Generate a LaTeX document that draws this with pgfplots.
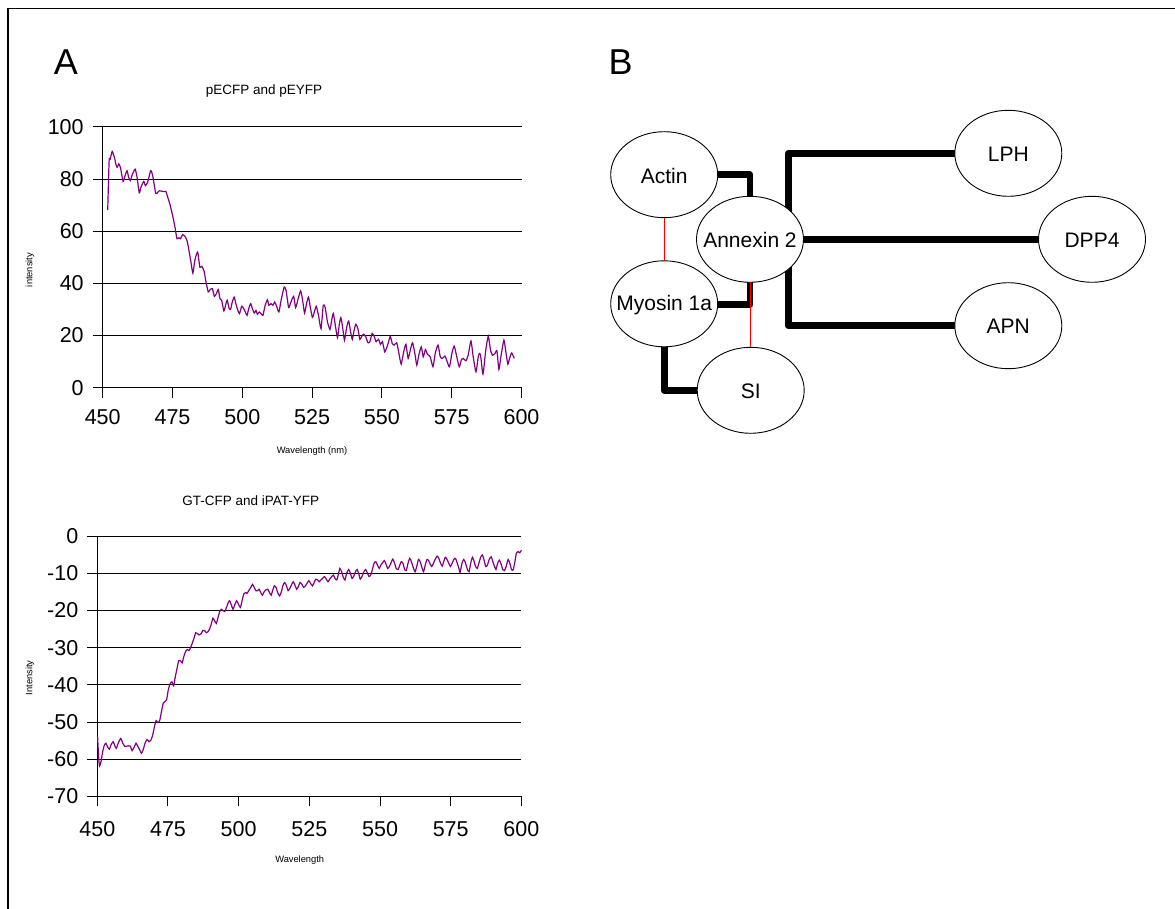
\documentclass[border=0pt]{standalone}
\usepackage{fontspec}
\setmainfont{Liberation Sans}
\usepackage{pgfplots}
\pgfplotsset{compat=1.18}
\definecolor{plotpurple}{HTML}{800080}
\definecolor{redline}{HTML}{FF0000}
\pgfplotsset{
  spec/.style={
    scale only axis, anchor=south west,
    xmin=450, xmax=600,
    axis lines=left,
    every inner x axis line/.append style={-},
    every inner y axis line/.append style={-},
    every outer x axis line/.append style={-},
    every outer y axis line/.append style={-},
    axis line style={black, line width=1pt},
    ymajorgrids, grid style={black, line width=1pt},
    xtick={450,475,...,600}, xticklabels={450,475,500,525,550,575,600},
    tick align=outside, major tick length=10pt,
    tick style={black, line width=1pt},
    tick label style={font=\fontsize{21.5}{24}\selectfont},
    yticklabel style={xshift=-5.5pt},
    clip=false,
  }
}
\begin{document}
\begin{tikzpicture}
\path[use as bounding box] (0pt,0pt) rectangle (1175pt,-909pt);
\draw[line width=1.3pt] (8pt,-909pt) -- (8pt,-8.3pt) -- (1175pt,-8.3pt);

% ---------- top plot ----------
\begin{axis}[spec,
  at={(102.7pt,-387.6pt)}, width=418.8pt, height=260.7pt,
  ymin=0, ymax=100,
  ytick={0,20,...,100}, yticklabels={0,20,40,60,80,100},
  xticklabel style={yshift=-8pt, text height=15.6pt, text depth=0pt},
]
\addplot[color=plotpurple, line width=1.2pt, no markers, smooth, tension=0.35] coordinates {
(451.8,68.1)(452.3,87.0)(452.7,87.7)(453.4,90.6)(454.2,88.3)(454.8,85.4)(455.2,84.5)(455.8,85.8)(456.4,84.2)(457.3,79.1)(458.0,81.3)(458.7,83.2)(459.3,80.7)(459.9,79.4)(460.6,81.7)(461.6,83.8)(462.3,80.7)(463.1,74.7)(463.7,76.8)(464.7,79.1)(465.3,77.5)(466.1,78.8)(467.2,83.2)(467.9,81.3)(469.0,74.5)(469.7,74.9)(470.3,75.5)(471.8,75.2)(472.6,75.3)(473.3,73.0)(474.1,70.2)(474.7,67.6)(475.3,64.7)(475.9,61.5)(476.6,57.1)(477.3,57.5)(477.9,57.1)(478.6,58.7)(479.5,57.9)(480.2,56.4)(480.9,52.6)(481.6,48.2)(482.3,43.9)(483.0,48.8)(484.0,52.0)(484.8,46.2)(485.5,46.5)(486.3,44.7)(486.9,41.1)(487.8,36.7)(488.5,37.6)(489.3,37.9)(490.0,35.0)
(490.7,36.0)(491.4,37.6)(492.0,34.1)(492.6,33.5)(493.4,29.4)(494.0,31.6)(494.6,33.5)(495.3,30.3)(495.8,30.0)(496.4,32.8)(497.1,34.7)(497.7,32.2)(498.4,29.6)(499.0,28.4)(499.8,31.2)(500.5,30.3)(501.1,29.0)(501.7,27.7)(502.3,30.3)(503.0,32.2)(503.6,30.3)(504.3,28.6)(504.9,29.6)(505.4,28.1)(506.1,29.0)(506.7,28.4)(507.4,27.7)(508.1,31.2)(509.0,33.7)(509.5,31.6)(510.3,32.2)(511.0,31.6)(511.6,32.8)(512.3,31.2)(513.1,29.0)(513.9,33.5)(515.0,38.6)(515.7,37.1)(516.6,30.7)(517.4,32.8)(518.4,35.0)(519.1,30.7)(520.0,34.1)(520.9,37.1)(521.6,33.5)(522.3,28.6)(523.0,32.2)(523.7,34.7)(524.3,31.2)(525.1,26.9)(525.8,29.0)(526.5,31.2)(527.3,27.7)(528.2,22.6)(529.0,31.6)(529.7,30.7)(530.5,25.2)(531.4,22.3)(532.0,25.8)(532.6,28.4)(533.4,23.3)(534.1,19.2)(534.7,23.9)(535.3,26.9)(536.0,22.6)(536.6,18.2)(537.4,23.3)(538.1,25.5)(538.8,21.4)(539.4,18.5)(540.1,22.3)(540.7,24.3)(541.4,22.6)(542.1,18.5)(542.7,19.5)(543.4,20.5)(544.2,19.5)(545.0,17.2)(545.7,17.6)(546.5,20.8)(547.3,19.5)(547.9,17.6)(548.8,18.5)(549.5,16.6)(550.2,17.6)(551.0,13.7)(551.6,15.0)(552.3,17.2)(553.0,19.7)(553.7,16.9)(554.4,16.3)(555.3,17.2)(556.1,13.1)(556.9,9.0)(557.8,13.7)(558.6,16.6)(559.4,11.2)(560.3,15.0)(561.0,17.2)(561.8,13.1)(562.5,8.6)(563.2,12.4)(564.1,15.6)(564.8,11.8)(565.6,14.6)(566.3,12.8)(567.3,11.8)(568.3,8.0)(569.1,13.1)(570.1,16.3)(570.9,11.8)(571.7,11.2)(572.6,12.1)(573.4,9.9)(574.2,8.0)(575.1,13.3)(575.9,15.9)(576.7,12.4)(577.7,8.0)
(578.5,10.8)(579.1,11.2)(580.1,10.3)(580.9,12.4)(581.9,17.9)(582.7,11.8)(583.7,6.1)(584.6,12.4)(585.3,12.7)(586.2,5.2)(587.2,14.4)(588.1,19.7)(588.9,14.4)(589.6,12.4)(590.5,13.1)(591.2,14.1)(591.9,7.0)(592.7,12.4)(593.7,18.2)(594.4,13.7)(595.1,9.0)(595.8,11.5)(596.5,13.3)(597.4,11.2)
};
\end{axis}

% ---------- bottom plot ----------
\begin{axis}[spec,
  at={(97.3pt,-796.4pt)}, width=424.1pt, height=260.4pt,
  ymin=-70, ymax=0,
  ytick={-70,-60,...,0}, yticklabels={-70,-60,-50,-40,-30,-20,-10,0},
  xticklabel style={yshift=-11pt, text height=15.6pt, text depth=0pt},
]
\addplot[color=plotpurple, line width=1.2pt, no markers, smooth, tension=0.35] coordinates {
(450.1,-53.9)(450.5,-59.8)(450.8,-61.8)(451.3,-60.7)(451.9,-58.0)(452.5,-56.2)(453.1,-55.7)(453.7,-56.8)(454.3,-57.3)(454.8,-56.2)(455.6,-55.3)(456.1,-56.2)(456.7,-57.1)(457.4,-55.7)(458.3,-54.4)(459.0,-55.7)(459.7,-56.5)(460.4,-56.5)(461.1,-56.4)(461.7,-56.5)(462.3,-57.7)(463.0,-56.8)(463.7,-55.7)(464.3,-56.5)(465.0,-57.5)(465.6,-58.4)(466.2,-57.5)(466.9,-55.7)(467.6,-54.7)(468.3,-55.3)(469.0,-54.8)(469.6,-53.5)(470.2,-51.3)(470.8,-49.6)(471.5,-50.2)(472.1,-49.5)(472.7,-47.2)(473.3,-45.0)(473.9,-44.5)(474.5,-44.1)(475.1,-41.4)(475.8,-39.6)(476.4,-39.2)(477.0,-40.3)(477.6,-37.8)(478.2,-35.6)(478.8,-33.5)(479.4,-33.5)(480.0,-34.1)(480.6,-32.4)(481.2,-31.1)(481.8,-30.5)(482.4,-30.8)(482.9,-30.2)(483.5,-29.0)(484.2,-27.5)(484.8,-26.0)(485.4,-26.2)(486.0,-26.6)(486.7,-26.3)(487.3,-25.4)(487.9,-25.4)(488.6,-26.0)(489.2,-25.7)(489.8,-24.8)(490.3,-23.7)(490.9,-22.1)(491.5,-22.8)(492.1,-23.5)(492.7,-21.9)(493.3,-20.3)(493.9,-19.7)(494.5,-20.1)(495.1,-20.3)(495.7,-19.2)(496.3,-17.9)(496.8,-17.4)(497.4,-18.5)(498.0,-19.7)(498.6,-18.5)(499.3,-17.4)(499.9,-18.3)(500.6,-19.2)(501.2,-17.4)(501.8,-15.6)(502.4,-15.2)(503.0,-15.4)(503.7,-14.5)(504.3,-13.8)(504.9,-13.0)(505.5,-13.8)(506.1,-14.7)(506.7,-14.7)(507.2,-14.3)(507.8,-15.2)(508.4,-15.9)(509.0,-15.0)(509.6,-14.5)(510.3,-14.3)(510.9,-15.2)(511.5,-15.9)(512.0,-14.7)(512.6,-13.4)(513.2,-13.8)(513.8,-15.2)(514.5,-16.1)(515.1,-15.0)(515.7,-13.2)(516.3,-12.5)(516.9,-13.4)(517.5,-14.7)(518.1,-14.1)(518.8,-12.9)(519.3,-12.3)(519.9,-13.2)(520.5,-14.3)(521.1,-13.6)(521.7,-12.5)(522.3,-12.9)(523.0,-13.8)(523.6,-13.4)(524.2,-12.7)(524.8,-12.0)(525.4,-12.7)(526.1,-13.4)(526.7,-12.5)(527.3,-11.6)(527.9,-11.8)(528.5,-12.3)(529.1,-11.8)(529.7,-11.4)(530.3,-10.9)(531.0,-11.6)(531.6,-12.3)(532.2,-11.6)(532.9,-10.9)(533.5,-10.5)(534.1,-11.4)(534.7,-11.8)(535.2,-10.5)(535.8,-8.7)(536.4,-9.6)(537.0,-11.1)(537.6,-11.8)(538.2,-10.0)(538.9,-9.0)(539.5,-10.0)(540.1,-11.4)(540.7,-10.8)(541.3,-9.6)(541.9,-9.0)(542.5,-10.2)(543.0,-11.6)(543.6,-10.9)(544.3,-9.6)(544.9,-9.0)(545.5,-9.9)(546.1,-10.9)(546.7,-10.5)(547.3,-9.0)(547.9,-7.3)(548.5,-6.9)(549.1,-7.8)(549.7,-8.7)(550.3,-7.8)(550.9,-7.2)(551.5,-6.6)(552.1,-7.5)(552.7,-8.7)(553.3,-8.2)(553.9,-7.2)(554.5,-6.2)(555.1,-7.2)(555.7,-8.7)(556.4,-9.0)(557.0,-7.8)(557.5,-6.9)(558.1,-7.3)(558.7,-9.0)(559.3,-9.3)(559.9,-7.3)(560.5,-6.0)(561.1,-6.9)(561.7,-8.4)(562.4,-9.6)(563.0,-8.1)(563.6,-6.3)(564.2,-6.9)(564.8,-8.4)(565.4,-9.6)(566.0,-7.8)(566.6,-6.3)(567.2,-6.6)(567.7,-7.5)(568.3,-8.2)(568.9,-7.3)(569.5,-6.3)(570.2,-5.4)(570.8,-6.0)(571.4,-7.3)(572.0,-8.1)(572.5,-6.9)(573.1,-5.7)(573.7,-6.3)(574.3,-7.3)(574.9,-8.2)(575.5,-7.3)(576.1,-6.3)(576.7,-6.0)(577.3,-7.3)(577.9,-8.7)(578.3,-9.8)
(579.0,-7.3)(579.6,-6.3)(580.2,-7.2)(580.9,-9.0)(581.5,-9.6)(582.1,-7.2)(582.7,-5.7)(583.3,-6.9)(583.8,-8.2)(584.4,-8.7)(585.0,-7.2)(585.6,-5.7)(586.2,-5.1)(586.8,-6.5)(587.4,-8.2)(588.0,-7.8)(588.6,-6.3)(589.3,-5.6)(589.9,-6.9)(590.5,-8.2)(591.0,-9.0)(591.6,-7.3)(592.2,-6.5)(592.8,-7.5)(593.4,-9.0)(594.0,-9.3)(594.6,-8.2)(595.3,-6.3)(595.9,-7.3)(596.5,-9.0)(597.1,-9.1)(597.7,-6.9)(598.2,-4.7)(598.8,-4.2)(599.4,-4.5)(600.0,-3.8)
};
\end{axis}

% ---------- texts and panel B ----------
\begin{scope}[x=1pt, y=-1pt]
\node[font=\fontsize{36}{40}\selectfont] at (66,62) {A};
\node[font=\fontsize{36}{40}\selectfont] at (620.5,62.5) {B};
\node[font=\fontsize{13.5}{16}\selectfont] at (264,91) {pECFP and pEYFP};
\node[font=\fontsize{13.5}{16}\selectfont] at (250.7,501) {GT-CFP and iPAT-YFP};
\node[font=\fontsize{9.3}{11}\selectfont] at (312,450.7) {Wavelength (nm)};
\node[font=\fontsize{9.3}{11}\selectfont] at (299.7,860) {Wavelength};
\node[font=\fontsize{9.3}{11}\selectfont, rotate=90] at (30,270) {intensity};
\node[font=\fontsize{9.3}{11}\selectfont, rotate=90] at (30,678) {Intensity};

% thick connections
\begin{scope}[line width=6.8pt, line join=round, black]
\draw (700,174.7) -- (750,174.7) -- (750,215);
\draw (700,304.5) -- (750,304.5) -- (750,265);
\draw (664.2,330) -- (664.2,390.3) -- (720,390.3);
\draw (788.3,225) -- (788.3,153.3) -- (980,153.3);
\draw (780,239.3) -- (1060,239.3);
\draw (788.3,255) -- (788.3,325.7) -- (980,325.7);
\end{scope}
% ellipses
\begin{scope}[line width=0.9pt, draw=black, fill=white]
\filldraw[fill=white] (664.2,174.7) ellipse [x radius=53.5pt, y radius=43pt];
\filldraw[fill=white] (664.2,303.8) ellipse [x radius=53.5pt, y radius=43pt];
\filldraw[fill=white] (750.7,390.3) ellipse [x radius=53.5pt, y radius=43pt];
\filldraw[fill=white] (750,239.3) ellipse [x radius=53.5pt, y radius=43pt];
\filldraw[fill=white] (1008.3,153.3) ellipse [x radius=53.5pt, y radius=43pt];
\filldraw[fill=white] (1092,239.3) ellipse [x radius=53.5pt, y radius=43pt];
\filldraw[fill=white] (1008.3,325.7) ellipse [x radius=53.5pt, y radius=43pt];
\end{scope}
% red links
\draw[redline, line width=0.9pt] (664.2,217.7) -- (664.2,260.8);
\draw[redline, line width=0.9pt] (750.3,282.3) -- (750.3,347.3);
% labels
\begin{scope}[font=\fontsize{21}{24}\selectfont]
\node at (664.2,175.5) {Actin};
\node at (664.2,305) {Myosin 1a};
\node at (750.7,391) {SI};
\node at (750,240) {Annexin 2};
\node at (1008.3,154) {LPH};
\node at (1092,240) {DPP4};
\node at (1008.3,326.5) {APN};
\end{scope}
\end{scope}
\end{tikzpicture}
\end{document}
